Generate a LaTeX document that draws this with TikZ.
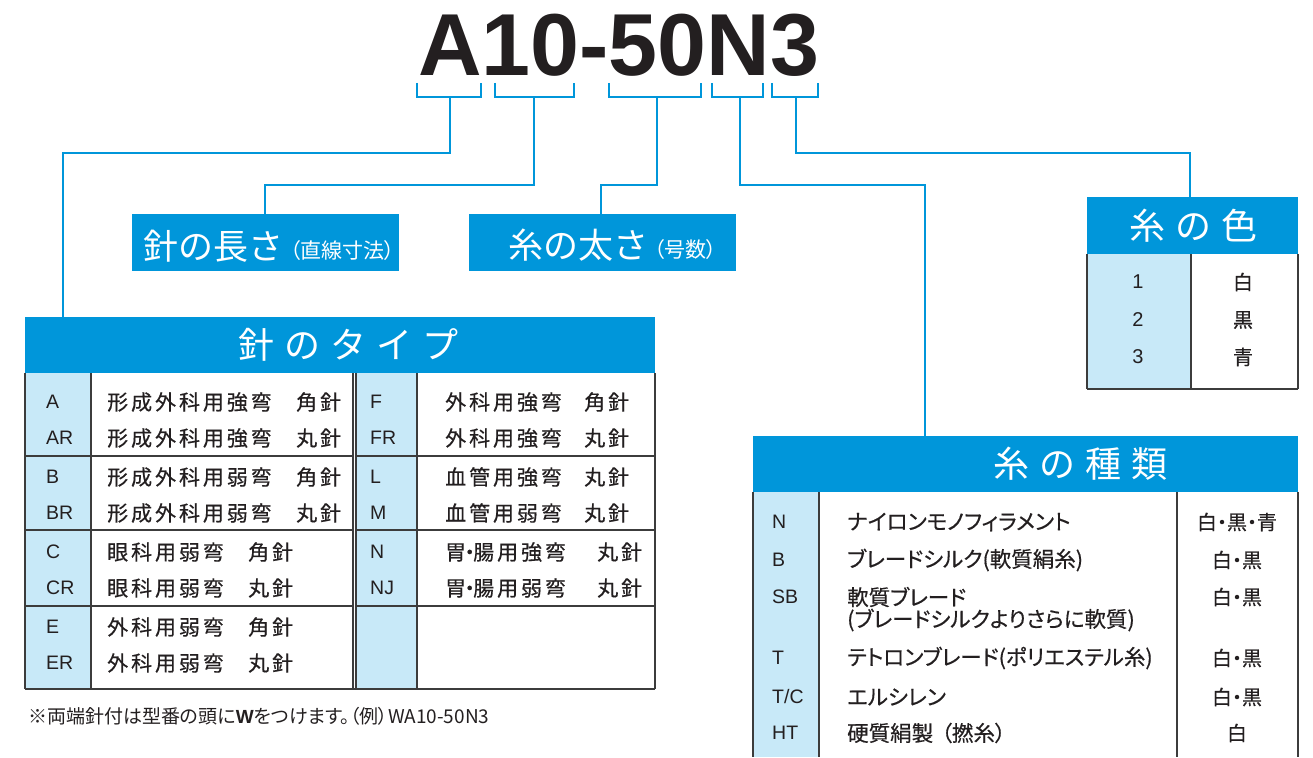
\documentclass[tikz,border=0pt]{standalone}
\usepackage{fontspec}
\setmainfont{Liberation Sans}
\newfontfamily\jp{Noto Sans CJK JP}
\newfontfamily\jpp[RawFeature=+palt]{Noto Sans CJK JP}
\newfontfamily\jppb[RawFeature=+palt,FakeBold=0.5]{Noto Sans CJK JP}
\newfontfamily\jpls[LetterSpace=14,FakeBold=0.5]{Noto Sans CJK JP}
\newfontfamily\jphd[LetterSpace=28]{Noto Sans CJK JP}
\definecolor{mblue}{RGB}{0,150,218}
\definecolor{lblue}{RGB}{200,233,248}
\definecolor{ink}{RGB}{35,31,32}
\definecolor{rulec}{RGB}{60,60,60}
\begin{document}
\begin{tikzpicture}[x=1pt,y=-1pt,
  conn/.style={draw=mblue,line width=2.8pt},
  brk/.style={draw=mblue,line width=2.8pt},
  hdr/.style={fill=mblue,inner sep=0pt,anchor=north west},
  cellbg/.style={fill=lblue,draw=none},
  rulel/.style={draw=rulec,line width=1.3pt},
  hdrtxt/.style={text=white,font=\jphd\fontsize{36}{36}\selectfont,inner sep=0pt,anchor=west},
  bigtxt/.style={text=white,font=\jp\fontsize{35}{36}\selectfont,inner sep=0pt,anchor=base west},
  smltxt/.style={text=white,font=\jpp\fontsize{21}{22}\selectfont,inner sep=0pt,anchor=base west},
  code/.style={text=ink,font=\fontsize{19.5}{20}\selectfont,inner sep=0pt,anchor=west},
  codec/.style={text=ink,font=\fontsize{20}{20}\selectfont,inner sep=0pt},
  desc/.style={text=ink,font=\jpls\fontsize{21}{22}\selectfont,inner sep=0pt,anchor=west},
  kdesc/.style={text=ink,font=\jppb\fontsize{21.5}{23}\selectfont,inner sep=0pt,anchor=west},
  colr/.style={text=ink,font=\jppb\fontsize{20}{20}\selectfont,inner sep=0pt}
]
\useasboundingbox (0,0) rectangle (1313,757);

% ---- title ----
\node[anchor=base west,inner sep=0pt,text=ink,font=\fontsize{88}{88}\selectfont\bfseries] (title) at (418,76) {A10-50N3};

% ---- brackets ----
\draw[brk] (417,83) -- (417,97) -- (481,97) -- (481,83);
\draw[brk] (495,83) -- (495,97) -- (574,97) -- (574,83);
\draw[brk] (609,83) -- (609,97) -- (701,97) -- (701,83);
\draw[brk] (712,83) -- (712,97) -- (763,97) -- (763,83);
\draw[brk] (772,83) -- (772,97) -- (818,97) -- (818,83);
\coordinate (s1) at (450,97);
\coordinate (s2) at (534,97);
\coordinate (s3) at (657,97);
\coordinate (s4) at (740,97);
\coordinate (s5) at (796,97);

% ---- blue boxes ----
\node[hdr,minimum width=267pt,minimum height=57pt] (lenbox) at (132,214) {};
\node[bigtxt] (lenA) at (143,259) {針の長さ};
\node[smltxt] (lenB) at (290,258) {（直線寸法）};
\node[hdr,minimum width=267pt,minimum height=57pt] (thkbox) at (469,214) {};
\node[bigtxt] (thkA) at (508,258) {糸の太さ};
\node[smltxt] (thkB) at (654,257) {（号数）};

\node[hdr,minimum width=630pt,minimum height=56pt] (typehdr) at (25,317) {};
\node[hdrtxt] (typetxt) at (238,345) {針のタイプ};
\node[hdr,minimum width=211pt,minimum height=57pt] (colhdr) at (1087,197) {};
\node[hdrtxt] (coltxt) at (1129,226) {糸の色};
\node[hdr,minimum width=545pt,minimum height=56pt] (kindhdr) at (753,436) {};
\node[hdrtxt] (kindtxt) at (993,464) {糸の種類};

\coordinate (h1) at (63,317);
\coordinate (h2) at (265,214);
\coordinate (h3) at (601,214);
\coordinate (h4) at (925,436);
\coordinate (h5) at (1190,197);

% ---- connectors ----
\draw[conn] (s1) -- ++(0,56) -| (h1);
\draw[conn] (s2) -- ++(0,88) -| (h2);
\draw[conn] (s3) -- ++(0,88) -| (h3);
\draw[conn] (s4) -- ++(0,88) -| (h4);
\draw[conn] (s5) -- ++(0,56) -| (h5);

% ---- needle type table ----
\fill[cellbg] (25,373) rectangle (91,689);
\fill[cellbg] (356,373) rectangle (417,689);
\foreach \xx in {25,91,353,356,417,655} \draw[rulel] (\xx,373) -- (\xx,689);
\foreach \yy in {456,530,606} {\draw[rulel] (25,\yy) -- (353,\yy); \draw[rulel] (356,\yy) -- (655,\yy);}
\draw[rulel] (25,689) -- (655,689);

\node[code] (cA)  at (46,402) {A};
\node[code] (cAR) at (46,438) {AR};
\node[code] (cB)  at (46,477) {B};
\node[code] (cBR) at (46,513) {BR};
\node[code] (cC)  at (46,552) {C};
\node[code] (cCR) at (46,588) {CR};
\node[code] (cE)  at (46,627) {E};
\node[code] (cER) at (46,663) {ER};

\node[desc] (dA)  at (107,402) {形成外科用強弯};
\node[desc] (dAR) at (107,438) {形成外科用強弯};
\node[desc] (dB)  at (107,477) {形成外科用弱弯};
\node[desc] (dBR) at (107,513) {形成外科用弱弯};
\node[desc] (dC)  at (107,552) {眼科用弱弯};
\node[desc] (dCR) at (107,588) {眼科用弱弯};
\node[desc] (dE)  at (107,627) {外科用弱弯};
\node[desc] (dER) at (107,663) {外科用弱弯};

\node[desc] (nA)  at (296,402) {角針};
\node[desc] (nAR) at (296,438) {丸針};
\node[desc] (nB)  at (296,477) {角針};
\node[desc] (nBR) at (296,513) {丸針};
\node[desc] (nC)  at (248,552) {角針};
\node[desc] (nCR) at (248,588) {丸針};
\node[desc] (nE)  at (248,627) {角針};
\node[desc] (nER) at (248,663) {丸針};

\node[code] (cF)  at (370,402) {F};
\node[code] (cFR) at (370,438) {FR};
\node[code] (cL)  at (370,477) {L};
\node[code] (cM)  at (370,513) {M};
\node[code] (cN)  at (370,552) {N};
\node[code] (cNJ) at (370,588) {NJ};

\node[desc] (dF)  at (445,402) {外科用強弯};
\node[desc] (dFR) at (445,438) {外科用強弯};
\node[desc] (dL)  at (445,477) {血管用強弯};
\node[desc] (dM)  at (445,513) {血管用弱弯};
\node[desc] (dN)  at (445,552) {胃\kern-7pt・\kern-7pt 腸用強弯};
\node[desc] (dNJ) at (445,588) {胃\kern-7pt・\kern-7pt 腸用弱弯};

\node[desc] (nF)  at (584,402) {角針};
\node[desc] (nFR) at (584,438) {丸針};
\node[desc] (nL)  at (584,477) {丸針};
\node[desc] (nM)  at (584,513) {丸針};
\node[desc] (nN)  at (597,552) {丸針};
\node[desc] (nNJ) at (597,588) {丸針};

% ---- thread colour table ----
\fill[cellbg] (1087,254) rectangle (1191,389);
\foreach \xx in {1087,1191,1298} \draw[rulel] (\xx,254) -- (\xx,389);
\draw[rulel] (1087,389) -- (1298,389);
\node[codec] (k1) at (1138,282) {1};
\node[codec] (k2) at (1138,320) {2};
\node[codec] (k3) at (1138,357) {3};
\node[colr] (w1) at (1243,282) {白};
\node[colr] (w2) at (1243,320) {黒};
\node[colr] (w3) at (1243,357) {青};

% ---- thread kind table ----
\fill[cellbg] (753,492) rectangle (819,757);
\foreach \xx in {753,819,1177,1298} \draw[rulel] (\xx,492) -- (\xx,757);
\node[code] (tN)  at (772,522) {N};
\node[code] (tB)  at (772,560) {B};
\node[code] (tSB) at (772,597) {SB};
\node[code] (tT)  at (772,658) {T};
\node[code] (tTC) at (772,697) {T/C};
\node[code] (tHT) at (772,733) {HT};

\node[kdesc] (eN)  at (847,522) {ナイロンモノフィラメント};
\node[kdesc] (eB)  at (847,560) {ブレードシルク(軟質絹糸)};
\node[kdesc] (eSB) at (847,597) {軟質ブレード};
\node[kdesc] (eSB2) at (847,620) {(ブレードシルクよりさらに軟質)};
\node[kdesc] (eT)  at (847,658) {テトロンブレード(ポリエステル糸)};
\node[kdesc] (eTC) at (847,697) {エルシレン};
\node[kdesc] (eHT) at (847,733) {硬質絹製\kern8pt（撚糸）};

\node[colr] (fN)  at (1237,522) {白・黒・青};
\node[colr] (fB)  at (1237,560) {白・黒};
\node[colr] (fSB) at (1237,597) {白・黒};
\node[colr] (fT)  at (1237,658) {白・黒};
\node[colr] (fTC) at (1237,697) {白・黒};
\node[colr] (fHT) at (1237,733) {白};

% ---- footnote ----
\node[anchor=west,inner sep=0pt,text=ink,font=\jpp\fontsize{19}{20}\selectfont] (foot) at (28,716) {※両端針付は型番の頭に{\normalfont\bfseries W}をつけます。（例）WA10-50N3};
\end{tikzpicture}
\end{document}
